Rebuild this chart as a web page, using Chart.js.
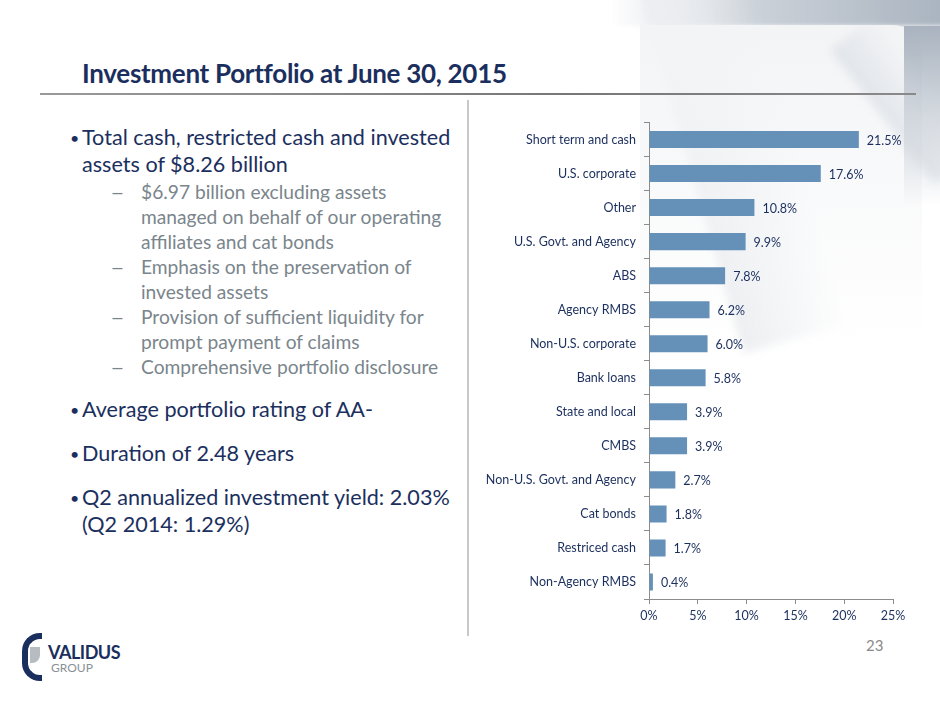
<!DOCTYPE html>
<html>
<head>
<meta charset="utf-8">
<script src="https://cdn.jsdelivr.net/npm/chart.js@4/dist/chart.umd.min.js"></script>
<style>
  html, body { margin: 0; padding: 0; }
  body { width: 940px; height: 705px; position: relative; overflow: hidden; background: #fff; font-family: Lato, "Open Sans", sans-serif; }
  .deco { position: absolute; pointer-events: none; }
  #title { position: absolute; left: 82px; top: 57px; font-size: 26px; font-weight: bold; color: #1b2f5e; letter-spacing: -0.3px; }
  #rule { position: absolute; left: 40px; top: 93px; width: 876px; height: 2px; background: linear-gradient(to right, #9a9a9a, #777 60%, #8a8a8a); }
  #divider { position: absolute; left: 467px; top: 100px; width: 2px; height: 536px; background: #c8c8c8; }
  .main { position: absolute; left: 82px; font-size: 21.6px; line-height: 27px; color: #1b2f5e; }
  .main:before { content: "\2022"; position: absolute; left: -12px; font-size: 16px; }
  .sub { position: absolute; left: 141px; font-size: 19.2px; line-height: 25px; color: #7a858c; }
  .sub:before { content: "\2013"; position: absolute; left: -29px; transform: scaleX(1.3); }
  #chartBox { position: absolute; left: 478px; top: 107px; width: 435px; height: 522px; }
  #page { position: absolute; left: 866px; top: 636px; font-size: 15px; color: #8a8a8a; }
  #logo { position: absolute; left: 22px; top: 633px; }
</style>
</head>
<body>
<!-- formas de fundo, canto superior direito -->
<div class="deco" style="left:610px;top:-10px;width:340px;height:36px;background:linear-gradient(to right,rgba(230,233,237,0),#cdd3da 40%,#a9b3bf);filter:blur(2px);"></div>
<div class="deco" style="left:625px;top:-60px;width:110px;height:430px;background:linear-gradient(to right,#eceef1,rgba(255,255,255,0));transform:rotate(-16deg);transform-origin:top left;filter:blur(4px);"></div>
<div class="deco" style="left:640px;top:25px;width:282px;height:320px;border-radius:0 30px 0 0;background:linear-gradient(to bottom,#f3f4f6,rgba(255,255,255,0));"></div>
<div class="deco" style="left:904px;top:26px;width:40px;height:180px;background:linear-gradient(to bottom,#a9b3bf,rgba(200,208,216,0));"></div>
<div class="deco" style="left:830px;top:50px;width:60px;height:170px;background:linear-gradient(to right,#d3d9e0,rgba(235,238,242,0));transform:rotate(-38deg);transform-origin:top left;filter:blur(5px);opacity:0.6"></div>

<div id="title">Investment Portfolio at June 30, 2015</div>
<div id="rule"></div>
<div id="divider"></div>

<div class="main" style="top:124px">Total cash, restricted cash and invested<br>assets of $8.26 billion</div>
<div class="sub" style="top:179px">$6.97 billion excluding assets<br>managed on behalf of our operating<br>affiliates and cat bonds</div>
<div class="sub" style="top:254px">Emphasis on the preservation of<br>invested assets</div>
<div class="sub" style="top:304px">Provision of sufficient liquidity for<br>prompt payment of claims</div>
<div class="sub" style="top:354px">Comprehensive portfolio disclosure</div>
<div class="main" style="top:396px">Average portfolio rating of AA-</div>
<div class="main" style="top:440px">Duration of 2.48 years</div>
<div class="main" style="top:484px">Q2 annualized investment yield: 2.03%<br>(Q2 2014: 1.29%)</div>

<div id="chartBox"><canvas id="graficoCarteira"></canvas></div>

<div id="page">23</div>
<div id="logo">
  <div style="position:absolute;left:0;top:0;width:14px;height:36px;border:6px solid #1b2f5e;border-right:none;border-radius:18px 0 0 18px;"></div>
  <div style="position:absolute;left:8px;top:14px;width:10px;height:16px;background:#b7bcc2;border-radius:0 0 8px 0;"></div>
  <div style="position:absolute;left:26px;top:8px;font-size:18px;font-weight:bold;color:#1b2f5e;letter-spacing:-0.5px;">VALIDUS</div>
  <div style="position:absolute;left:29px;top:27px;font-size:12px;color:#8a9096;">GROUP</div>
</div>

<script>
/* Dados do gráfico */
const categorias = [
  "Short term and cash", "U.S. corporate", "Other", "U.S. Govt. and Agency", "ABS",
  "Agency RMBS", "Non-U.S. corporate", "Bank loans", "State and local", "CMBS",
  "Non-U.S. Govt. and Agency", "Cat bonds", "Restriced cash", "Non-Agency RMBS"
]
const percentuais = [21.5, 17.6, 10.8, 9.9, 7.8, 6.2, 6.0, 5.8, 3.9, 3.9, 2.7, 1.8, 1.7, 0.4]
const ticksX = [0, 5, 10, 15, 20, 25]

const corTexto = "#1b2f5e"
const fonte = { family: "Lato, 'Open Sans', sans-serif", size: 12.5 }

/* rótulos de valor ao lado das barras */
const rotulosValor = {
  id: "rotulosValor",
  afterDatasetsDraw(grafico) {
    const ctx = grafico.ctx
    const meta = grafico.getDatasetMeta(0)
    ctx.save()
    ctx.font = "12.5px " + fonte.family
    ctx.fillStyle = corTexto
    ctx.textBaseline = "middle"
    meta.data.forEach((barra, i) => {
      ctx.fillText(percentuais[i].toFixed(1) + "%", barra.x + 8, barra.y + 1)
    })
    ctx.restore()
  }
}

const canvas = document.getElementById("graficoCarteira")
const graficoCarteira = new Chart(canvas, {
  type: "bar",
  data: {
    labels: categorias,
    datasets: [{
      data: percentuais,
      backgroundColor: "#6591b9",
      borderWidth: 0,
      categoryPercentage: 1,
      barPercentage: 0.5
    }]
  },
  options: {
    indexAxis: "y",
    responsive: true,
    maintainAspectRatio: false,
    animation: false,
    layout: { padding: { top: 7, right: 20, left: 0, bottom: 0 } },
    plugins: { legend: { display: false }, tooltip: { enabled: false } },
    scales: {
      x: {
        min: ticksX[0],
        max: ticksX[ticksX.length - 1],
        afterBuildTicks: (escala) => { escala.ticks = ticksX.map(v => ({ value: v })) },
        afterFit: (escala) => { escala.height = 30 },
        border: { color: "#8c8c8c", width: 1 },
        grid: { drawOnChartArea: false, drawTicks: true, tickLength: 5, color: "#8c8c8c" },
        ticks: { color: corTexto, font: fonte, padding: 4, callback: v => v + "%" }
      },
      y: {
        afterFit: (escala) => { escala.width = 171 },
        border: { color: "#8c8c8c", width: 1 },
        grid: { offset: true, drawOnChartArea: false, drawTicks: true, tickLength: 5, color: "#8c8c8c" },
        ticks: { color: corTexto, font: fonte, padding: 8 }
      }
    }
  },
  plugins: [rotulosValor]
})
</script>
</body>
</html>
